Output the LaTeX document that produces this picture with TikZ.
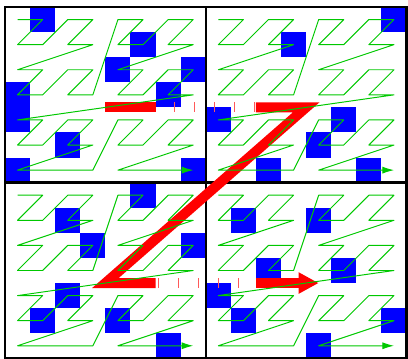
\documentclass[tikz,border=0pt]{standalone}
\usetikzlibrary{arrows.meta}
\definecolor{zgreen}{RGB}{0,200,0}
\definecolor{zred}{RGB}{255,0,0}
\definecolor{zblue}{RGB}{0,0,255}
\tikzset{
  cellfill/.style={fill=zblue},
  frameline/.style={draw=black, line width=2.8pt},
  redbar/.style={draw=zred, line width=11.3pt, line join=miter},
  redtick/.style={draw=zred!65, line width=1.1pt},
  zcurve/.style={draw=zgreen, line width=1.1pt, line join=round},
  zarrow/.style={-{Latex[length=13pt,width=8pt]}}
}
\begin{document}
\begin{tikzpicture}[x=1cm, y=-1cm]
\useasboundingbox (-0.2,-0.28) rectangle (16.06,14.02);
% blue cells
\foreach \c/\r in {1/0,5/1,4/2,7/2,6/3,0/3,0/4,2/5,0/6,7/6,
                   15/0,11/1,8/4,13/4,12/5,10/6,14/6,
                   5/7,2/8,3/9,7/9,2/11,1/12,4/12,6/13,
                   9/8,12/8,10/10,13/10,8/11,9/12,15/12,12/13}
  \fill[cellfill] (\c,\r) rectangle ++(1,1);
% frame and dividers
\draw[frameline] (0,0) rectangle (16,14);
\draw[frameline] (8,0) -- (8,14);
\draw[frameline] (0,7) -- (16,7);
% red Z
\draw[redbar, line cap=butt] (4,4) -- (6,4);
\draw[redbar, line cap=butt] (10,4) -- (12,4) -- (4,11) -- (6,11);
\draw[redbar, line cap=butt, -{Triangle[length=22.7pt,width=22.7pt]}] (10,11) -- (12.5,11);
\foreach \x in {6.75,7.55,8.35,9.15,9.95}
  \draw[redtick] (\x,3.8) -- (\x,4.2);
\foreach \x in {6.1,6.9,7.7,8.5,9.3}
  \draw[redtick] (\x,10.8) -- (\x,11.2);
% green Z-order curves
\foreach \ox/\oy in {0/0,8/0,0/7,8/7} {
  \begin{scope}[shift={(\ox+0.5,\oy+0.5)}]
    \draw[zcurve, zarrow] (0,0)--(1,0)--(0,1)--(1,1)--(2,0)--(3,0)--(2,1)--(3,1)
      --(0,2)--(1,2)--(0,3)--(1,3)--(2,2)--(3,2)--(2,3)--(3,3)
      --(4,0)--(5,0)--(4,1)--(5,1)--(6,0)--(7,0)--(6,1)--(7,1)
      --(4,2)--(5,2)--(4,3)--(5,3)--(6,2)--(7,2)--(6,3)--(7,3)
      --(0,4)--(1,4)--(0,5)--(1,5)--(2,4)--(3,4)--(2,5)--(3,5)
      --(0,6)--(3,6)
      --(4,4)--(5,4)--(4,5)--(5,5)--(6,4)--(7,4)--(6,5)--(7,5)
      --(4,6)--(7,6);
  \end{scope}
}
\end{tikzpicture}
\end{document}
